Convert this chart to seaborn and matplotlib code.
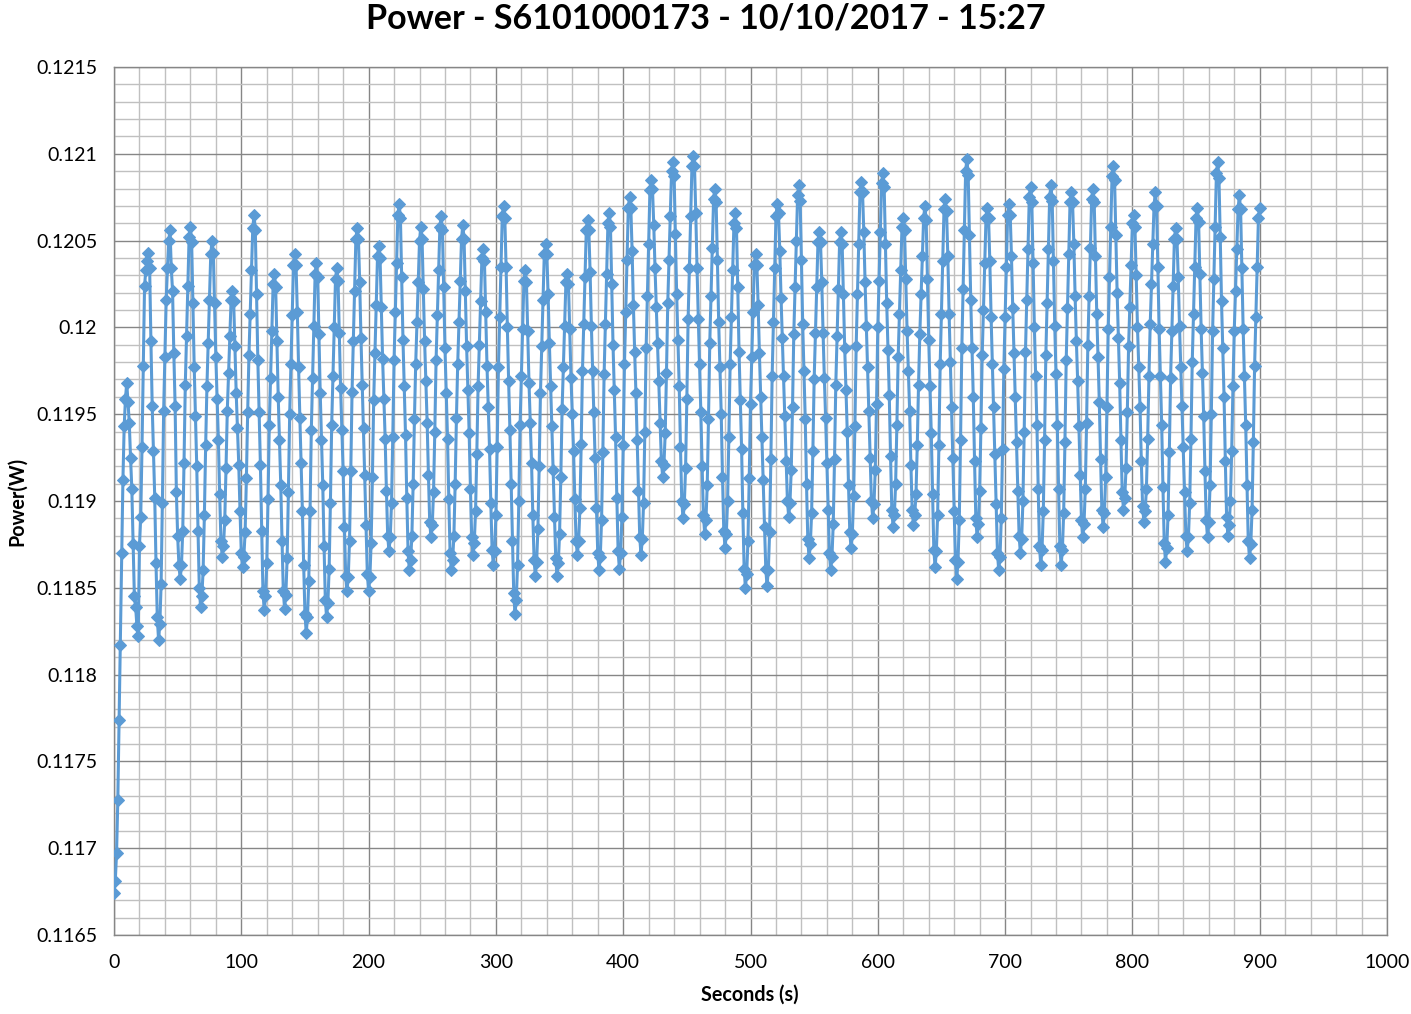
import numpy as np
import pandas as pd
import matplotlib
matplotlib.use("Agg")
import matplotlib.pyplot as plt
from matplotlib.ticker import MultipleLocator, FuncFormatter
import seaborn as sns

# power readings in units of 1e-5 W, one per second starting at 0 s
power_1e5 = [
    11674, 11681, 11697, 11728, 11774, 11817, 11870, 11912, 11943, 11959, 11968,
    11957, 11945, 11925, 11907, 11875, 11845, 11839, 11828, 11822,
    11874, 11891, 11931, 11978, 12024, 12033, 12038, 12043,
    12034, 11992, 11955, 11929, 11902, 11864, 11833, 11820,
    11829, 11852, 11899, 11952, 11983, 12016, 12034, 12050, 12056,
    12034, 12021, 11985, 11955, 11905, 11880, 11863, 11855,
    11863, 11883, 11922, 11967, 11995, 12024, 12052, 12058,
    12049, 12014, 11977, 11949, 11920, 11883, 11850, 11839,
    11845, 11860, 11892, 11932, 11966, 11991, 12016, 12042, 12050,
    12043, 12014, 11983, 11959, 11935, 11904, 11877, 11868,
    11874, 11889, 11919, 11952, 11974, 11995, 12016, 12021,
    12015, 11989, 11962, 11942, 11921, 11894, 11870, 11862,
    11868, 11882, 11913, 11951, 11984, 12008, 12033, 12057, 12065,
    12056, 12019, 11981, 11951, 11921, 11883, 11848, 11837,
    11845, 11864, 11901, 11944, 11971, 11998, 12025, 12031,
    12023, 11992, 11960, 11935, 11909, 11877, 11848, 11838,
    11846, 11867, 11905, 11950, 11979, 12007, 12036, 12042,
    12036, 12009, 11977, 11948, 11922, 11894, 11863, 11835, 11824,
    11833, 11854, 11894, 11941, 11971, 12001, 12031, 12037,
    12029, 11996, 11962, 11935, 11909, 11874, 11843, 11833,
    11841, 11861, 11899, 11944, 11972, 12000, 12028, 12034,
    12027, 11997, 11965, 11941, 11917, 11885, 11857, 11848,
    11856, 11877, 11917, 11963, 11992, 12021, 12051, 12057,
    12051, 12026, 11994, 11967, 11942, 11915, 11886, 11858, 11848,
    11856, 11876, 11914, 11958, 11985, 12013, 12041, 12047,
    12040, 12012, 11982, 11959, 11936, 11906, 11880, 11871,
    11879, 11899, 11937, 11981, 12009, 12037, 12065, 12071,
    12063, 12029, 11993, 11966, 11938, 11902, 11871, 11860,
    11866, 11880, 11910, 11947, 11979, 12003, 12026, 12050, 12058,
    12051, 12022, 11992, 11969, 11945, 11915, 11888, 11879,
    11886, 11905, 11940, 11981, 12007, 12033, 12058, 12064,
    12056, 12023, 11988, 11962, 11936, 11901, 11870, 11860,
    11866, 11880, 11910, 11948, 11979, 12003, 12027, 12051, 12059,
    12051, 12021, 11989, 11964, 11939, 11907, 11879, 11869,
    11876, 11894, 11927, 11966, 11990, 12015, 12040, 12045,
    12038, 12009, 11978, 11954, 11930, 11899, 11872, 11863,
    11871, 11892, 11931, 11977, 12006, 12035, 12064, 12070,
    12063, 12035, 12000, 11969, 11941, 11910, 11877, 11847, 11835,
    11843, 11863, 11900, 11944, 11972, 11999, 12027, 12033,
    12026, 11998, 11968, 11945, 11922, 11892, 11866, 11857,
    11865, 11884, 11920, 11962, 11989, 12016, 12042, 12048,
    12042, 12019, 11991, 11966, 11943, 11918, 11891, 11867, 11857,
    11864, 11881, 11914, 11953, 11977, 12001, 12026, 12031,
    12025, 11999, 11971, 11950, 11929, 11901, 11877, 11869,
    11877, 11896, 11933, 11975, 12002, 12029, 12056, 12062,
    12056, 12032, 12001, 11975, 11951, 11925, 11896, 11870, 11860,
    11868, 11889, 11928, 11973, 12002, 12031, 12060, 12066,
    12058, 12025, 11990, 11964, 11937, 11902, 11871, 11861,
    11870, 11891, 11932, 11979, 12009, 12039, 12069, 12075,
    12069, 12044, 12013, 11986, 11962, 11935, 11906, 11879, 11869,
    11878, 11899, 11940, 11988, 12018, 12048, 12079, 12085,
    12080, 12059, 12034, 12012, 11991, 11969, 11945, 11923, 11914,
    11921, 11939, 11974, 12014, 12039, 12064, 12090, 12095,
    12087, 12054, 12019, 11993, 11966, 11931, 11900, 11890,
    11898, 11919, 11959, 12005, 12034, 12064, 12093, 12099,
    12093, 12066, 12034, 12005, 11979, 11951, 11920, 11892, 11881,
    11889, 11909, 11947, 11991, 12018, 12046, 12074, 12080,
    12072, 12039, 12003, 11977, 11950, 11914, 11883, 11873,
    11881, 11900, 11937, 11979, 12006, 12033, 12060, 12066,
    12057, 12023, 11986, 11958, 11930, 11893, 11861, 11850,
    11858, 11877, 11913, 11956, 11983, 12009, 12036, 12042,
    12036, 12013, 11985, 11960, 11937, 11912, 11885, 11861, 11851,
    11860, 11882, 11924, 11972, 12003, 12034, 12064, 12071,
    12066, 12044, 12017, 11994, 11972, 11949, 11923, 11900, 11891,
    11899, 11918, 11954, 11996, 12023, 12050, 12076, 12082,
    12073, 12039, 12002, 11975, 11947, 11910, 11878, 11867,
    11875, 11893, 11929, 11970, 11997, 12023, 12049, 12055,
    12049, 12026, 11997, 11971, 11948, 11922, 11895, 11870, 11860,
    11868, 11887, 11924, 11967, 11995, 12022, 12049, 12055,
    12048, 12019, 11988, 11964, 11940, 11909, 11882, 11873,
    11881, 11903, 11943, 11989, 12019, 12048, 12078, 12084,
    12078, 12055, 12026, 12001, 11977, 11952, 11925, 11900, 11890,
    11898, 11918, 11956, 12000, 12027, 12055, 12083, 12089,
    12081, 12048, 12014, 11987, 11961, 11926, 11895, 11885,
    11892, 11910, 11944, 11983, 12008, 12033, 12058, 12063,
    12056, 12028, 11998, 11975, 11952, 11921, 11895, 11886,
    11892, 11904, 11932, 11967, 11996, 12019, 12041, 12063, 12070,
    12062, 12028, 11993, 11966, 11939, 11904, 11872, 11862,
    11871, 11892, 11932, 11979, 12008, 12038, 12068, 12074,
    12067, 12041, 12008, 11980, 11954, 11925, 11894, 11866, 11855,
    11865, 11889, 11935, 11988, 12022, 12056, 12090, 12097,
    12088, 12053, 12016, 11988, 11960, 11923, 11890, 11879,
    11887, 11906, 11942, 11984, 12010, 12037, 12063, 12069,
    12063, 12038, 12006, 11979, 11954, 11927, 11898, 11870, 11860,
    11868, 11890, 11930, 11976, 12006, 12035, 12065, 12071,
    12065, 12041, 12011, 11985, 11960, 11934, 11906, 11880, 11870,
    11878, 11900, 11940, 11986, 12016, 12045, 12075, 12081,
    12072, 12037, 12000, 11972, 11944, 11907, 11874, 11863,
    11872, 11894, 11935, 11984, 12014, 12045, 12075, 12082,
    12073, 12038, 12001, 11973, 11944, 11907, 11874, 11863,
    11872, 11893, 11934, 11981, 12011, 12042, 12072, 12078,
    12072, 12048, 12018, 11992, 11969, 11943, 11915, 11889, 11879,
    11887, 11907, 11945, 11990, 12018, 12046, 12074, 12080,
    12072, 12041, 12008, 11983, 11957, 11924, 11895, 11885,
    11893, 11914, 11954, 11999, 12029, 12058, 12087, 12093,
    12085, 12053, 12020, 11994, 11968, 11935, 11905, 11895,
    11902, 11919, 11951, 11989, 12012, 12036, 12060, 12065,
    12058, 12030, 12000, 11977, 11954, 11923, 11897, 11888,
    11894, 11907, 11936, 11972, 12002, 12025, 12048, 12070, 12078,
    12070, 12035, 11999, 11972, 11944, 11908, 11876, 11865,
    11873, 11892, 11928, 11971, 11998, 12024, 12051, 12057,
    12051, 12029, 12001, 11977, 11955, 11931, 11905, 11880, 11871,
    11879, 11899, 11936, 11980, 12008, 12035, 12063, 12069,
    12061, 12031, 11999, 11974, 11949, 11917, 11889, 11879,
    11888, 11909, 11950, 11998, 12028, 12058, 12089, 12095,
    12086, 12052, 12015, 11988, 11960, 11923, 11891, 11880,
    11886, 11900, 11929, 11966, 11998, 12021, 12045, 12068, 12076,
    12068, 12034, 11999, 11972, 11944, 11909, 11877, 11867,
    11875, 11895, 11934, 11978, 12006, 12035, 12063, 12069,
]

title = "Power - S6101000173 - 10/10/2017 - 15:27"
x_label = "Seconds (s)"
y_label = "Power(W)"

df = pd.DataFrame({
    "Seconds": np.arange(len(power_1e5)),
    "Power": np.array(power_1e5) / 1e5,
})

sns.set_style("white")
plt.rcParams["font.family"] = ["Lato", "DejaVu Sans"]

blue = "#5B9BD5"
major_col = "#868686"
minor_col = "#C0C0C0"

fig = plt.figure(figsize=(14.11, 10.14), dpi=100)
ax = fig.add_axes([114 / 1411, 1 - 935 / 1014, (1387 - 114) / 1411, (935 - 67) / 1014])

sns.lineplot(data=df, x="Seconds", y="Power", ax=ax, color=blue, linewidth=2.2,
             marker="D", markersize=6.5, markeredgecolor=blue, markerfacecolor=blue,
             estimator=None, zorder=3)

ax.set_xlim(0, 1000)
ax.set_ylim(0.1165, 0.1215)
ax.xaxis.set_major_locator(MultipleLocator(100))
ax.xaxis.set_minor_locator(MultipleLocator(20))
ax.yaxis.set_major_locator(MultipleLocator(0.0005))
ax.yaxis.set_minor_locator(MultipleLocator(0.0001))
ax.yaxis.set_major_formatter(FuncFormatter(lambda v, p: f"{v:.4f}".rstrip("0").rstrip(".")))

ax.grid(which="major", color=major_col, linewidth=1.0, zorder=0)
ax.grid(which="minor", color=minor_col, linewidth=1.0, zorder=0)
ax.set_axisbelow(True)

ax.tick_params(which="major", direction="out", length=6, width=1, color=major_col,
               labelsize=14, labelcolor="black", pad=6)
ax.tick_params(which="minor", length=0)
ax.tick_params(axis="x", pad=8)

for side in ["left", "bottom", "top", "right"]:
    ax.spines[side].set_color(major_col)
    ax.spines[side].set_linewidth(1.0)

ax.set_xlabel("")
ax.set_ylabel("")

fig.text(0.5, 1 - 18 / 1014, title, ha="center", va="center", fontsize=24.5,
         fontweight="bold", color="black")
fig.text(750 / 1411, 1 - 995 / 1014, x_label, ha="center", va="center", fontsize=14.2,
         fontweight="bold", color="black")
fig.text(17 / 1411, 1 - 501 / 1014, y_label, ha="center", va="center", rotation=90,
         fontsize=14.2, fontweight="bold", color="black")

fig.savefig("out.png", dpi=100)
